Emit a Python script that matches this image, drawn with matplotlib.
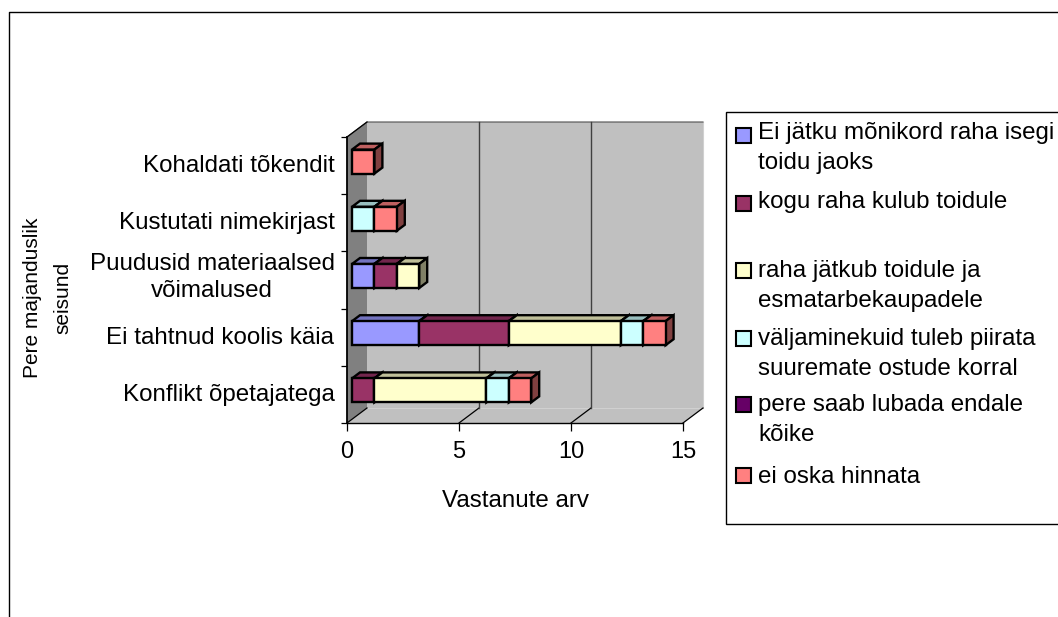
import matplotlib
matplotlib.use("Agg")
import numpy as np
import matplotlib.pyplot as plt
from matplotlib.patches import Polygon, Rectangle
from matplotlib.colors import to_rgb

plt.rcParams["font.family"] = ["Liberation Sans", "DejaVu Sans"]

categories = ["Konflikt õpetajatega", "Ei tahtnud koolis käia",
              "Puudusid materiaalsed\nvõimalused", "Kustutati nimekirjast",
              "Kohaldati tõkendit"]
series_names = ["Ei jätku mõnikord raha isegi\ntoidu jaoks", "kogu raha kulub toidule",
                "raha jätkub toidule ja\nesmatarbekaupadele",
                "väljaminekuid tuleb piirata\nsuuremate ostude korral",
                "pere saab lubada endale\nkõike", "ei oska hinnata"]
colors = ["#9999FF", "#993366", "#FFFFCC", "#CCFFFF", "#660066", "#FF8080"]
values = [[0, 3, 1, 0, 0],
          [1, 4, 1, 0, 0],
          [5, 5, 1, 0, 0],
          [1, 1, 0, 1, 0],
          [0, 0, 0, 0, 0],
          [1, 1, 0, 1, 1]]
x_ticks = [0, 5, 10, 15]
swatch_y = [135, 203, 270, 338, 404, 475]
text_y = [132, 200, 270, 338, 404, 475]
label_shift = [2, 2, 8, 2, 2]
fs = 17.35

W, H = 1058, 617
fig = plt.figure(figsize=(W / 100, H / 100), dpi=100)

# overlay in pixels for frame, legend and titles
over = fig.add_axes([0, 0, 1, 1])
over.set_xlim(0, W)
over.set_ylim(H, 0)
over.axis("off")
over.plot([9, 9, W], [H, 12, 12], color="black", lw=1)
over.add_patch(Rectangle((726, 112), 340, 412, fc="white", ec="black", lw=1))

for name, c, sy, ty in zip(series_names, colors, swatch_y, text_y):
    over.add_patch(Rectangle((736, sy - 7.5), 15, 15, fc=c, ec="black", lw=1.5))
    if "\n" in name:
        over.text(758, ty - 10, name, fontsize=fs, va="top", linespacing=1.48)
    else:
        over.text(758, ty + 2, name, fontsize=fs, va="center")

over.text(516, 501, "Vastanute arv", fontsize=fs, ha="center", va="center")
over.text(47.5, 298, "Pere majanduslik\nseisund", fontsize=15, ha="center", va="center",
          rotation=90, linespacing=1.8, multialignment="center")

# plot area, front plane of the 3d box
ax = fig.add_axes([347 / W, 1 - 423 / H, 336 / W, 286 / H])
ax.patch.set_alpha(0)
ax.set_xlim(0, 15)
ax.set_ylim(0, 5)
xu = 15 / 336
yu = 5 / 286
dx, dy = 20 * xu, 15 * yu

ax.add_patch(Polygon([(dx, dy), (15 + dx, dy), (15 + dx, 5 + dy), (dx, 5 + dy)],
                     fc="#C0C0C0", ec="none", clip_on=False, zorder=1))
ax.add_patch(Polygon([(0, 0), (15, 0), (15 + dx, dy), (dx, dy)],
                     fc="#C0C0C0", ec="none", clip_on=False, zorder=1))
ax.add_patch(Polygon([(0, 0), (dx, dy), (dx, 5 + dy), (0, 5)],
                     fc="#808080", ec="none", clip_on=False, zorder=1))
ax.plot([dx, 15 + dx, 15 + dx], [dy, dy, 5 + dy], color="#D0D0D0", lw=0.8, clip_on=False, zorder=1.5)
ax.plot([0, dx, 15 + dx], [5, 5 + dy, 5 + dy], color="#505050", lw=0.8, clip_on=False, zorder=1.5)
for t in x_ticks:
    ax.plot([t, t + dx], [0, dy], color="black", lw=0.9, clip_on=False, zorder=2)
    if 0 < t < 15:
        ax.plot([t + dx, t + dx], [dy, 5 + dy], color="#404040", lw=1, clip_on=False, zorder=2)
ax.plot([0, dx], [5, 5 + dy], color="black", lw=0.9, clip_on=False, zorder=2)

# stacked bars with top and side faces
x0 = 5 * xu
bdx, bdy = 8 * xu, 6 * yu
bar_h = 24 * yu
y_pos = np.arange(len(categories)) + 0.5 + 4 * yu
left = np.zeros(len(categories)) + x0
lw = 1.7
for vals, c in zip(values, colors):
    vals = np.array(vals, dtype=float)
    rgb = np.array(to_rgb(c))
    for i, v in enumerate(vals):
        if v == 0:
            continue
        yt = y_pos[i] + bar_h / 2
        xr = left[i] + v
        ax.add_patch(Polygon([(left[i], yt), (xr, yt), (xr + bdx, yt + bdy), (left[i] + bdx, yt + bdy)],
                             fc=rgb * 0.75, ec="black", lw=lw, clip_on=False, zorder=3))
        ax.add_patch(Polygon([(xr, yt), (xr + bdx, yt + bdy), (xr + bdx, yt + bdy - bar_h), (xr, yt - bar_h)],
                             fc=rgb * 0.5, ec="black", lw=lw, clip_on=False, zorder=3))
    ax.barh(y_pos, vals, height=np.where(vals > 0, bar_h, 0), left=left, color=c,
            edgecolor=["black" if v > 0 else "none" for v in vals], linewidth=lw, zorder=4, clip_on=False)
    left = left + vals

for s in ["top", "right"]:
    ax.spines[s].set_visible(False)
ax.spines["left"].set_linewidth(1.3)
ax.spines["bottom"].set_linewidth(1)
ax.spines["left"].set_zorder(2.5)
ax.set_xticks(x_ticks)
ax.set_yticks(range(len(categories) + 1))
ax.set_yticklabels([])
ax.set_yticks(np.arange(len(categories)) + 0.5 + np.array(label_shift) * yu, minor=True)
ax.set_yticklabels(categories, minor=True, multialignment="center", linespacing=1.33)
ax.tick_params(axis="y", which="minor", length=0, pad=9, labelsize=fs)
ax.tick_params(axis="y", which="major", length=4, width=0.9, pad=2)
ax.tick_params(axis="x", which="major", length=6, width=0.9, pad=7, labelsize=17)

fig.savefig("out.png", dpi=100)
